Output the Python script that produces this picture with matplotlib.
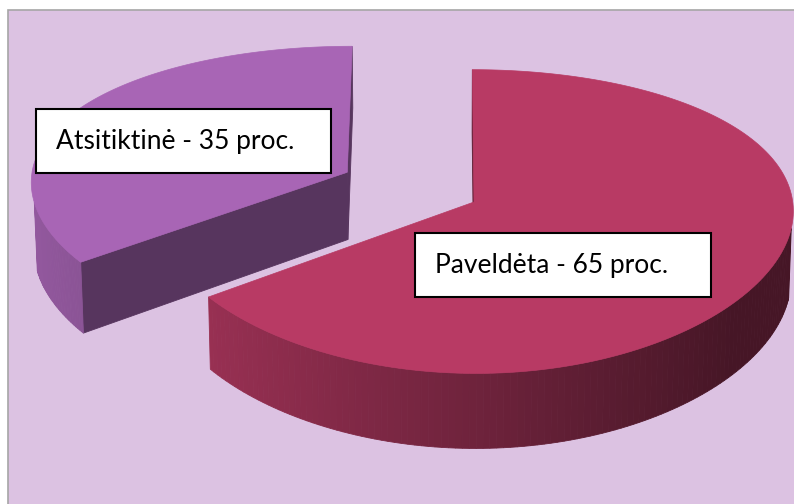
import numpy as np
import matplotlib
matplotlib.use('Agg')
import matplotlib.pyplot as plt
from matplotlib.patches import Polygon, Rectangle

# ---- data ----
categories = ['Paveldėta', 'Atsitiktinė']
values = [65, 35]
label_texts = ['Paveldėta - 65 proc.', 'Atsitiktinė - 35 proc.']
explode = [0.0, 0.45]
top_colors = ['#B83A64', '#A865B5']

# ---- layout / camera ----
W, H = 794, 504
elev = np.radians(28.2)
D = 6.85          # vertical perspective distance
Dx = 16.0         # weaker horizontal perspective
F = 2165.0
Fx = 5100.0
Xcam = -0.10
apex_px = (474.0, 202.0)
depth = 0.25
ce, se = np.cos(elev), np.sin(elev)
sx0 = apex_px[0] + Fx * Xcam / Dx
sy0 = apex_px[1]
cam = np.array([Xcam, -D * ce, D * se])


def proj(X, Y, Z):
    X = np.asarray(X, float); Y = np.asarray(Y, float); Z = np.asarray(Z, float)
    d = D + Y * ce - Z * se
    dx = Dx + Y * ce - Z * se
    v = Y * se + Z * ce
    return sx0 + Fx * (X - Xcam) / dx, sy0 - F * v / d


def shade(color, f):
    r, g, b = matplotlib.colors.to_rgb(color)
    return (min(r * f, 1), min(g * f, 1), min(b * f, 1))


fig = plt.figure(figsize=(W / 100, H / 100), dpi=100)
fig.patch.set_facecolor('white')
ax = fig.add_axes([0, 0, 1, 1])
ax.set_xlim(0, W)
ax.set_ylim(H, 0)
ax.axis('off')
ax.add_patch(Rectangle((8, 10), 900, 600, facecolor='#DCC2E2',
                       edgecolor='#A6A6A6', linewidth=1.2, zorder=0))

total = float(sum(values))
angles = []
t = 90.0
for v in values:
    t2 = t - 360.0 * v / total
    angles.append((t, t2))
    t = t2


def draw_slice(i, z0):
    ts, te = angles[i]
    mid = np.radians((ts + te) / 2)
    ox, oy = explode[i] * np.cos(mid), explode[i] * np.sin(mid)
    col = top_colors[i]
    th = np.radians(np.linspace(ts, te, 200))
    rx, ry = ox + np.cos(th), oy + np.sin(th)
    faces = []
    # walls
    for k in range(len(th) - 1):
        tm = 0.5 * (th[k] + th[k + 1])
        n = np.array([np.cos(tm), np.sin(tm), 0])
        p = np.array([ox + np.cos(tm), oy + np.sin(tm), -depth / 2])
        if np.dot(n, cam - p) <= 0:
            continue
        X = [rx[k], rx[k + 1], rx[k + 1], rx[k]]
        Y = [ry[k], ry[k + 1], ry[k + 1], ry[k]]
        Z = [0, 0, -depth, -depth]
        f = max(0.6 - 0.28 * np.cos(tm), 0.38)
        faces.append((np.dot(p - cam, p - cam), X, Y, Z, shade(col, f)))
    # radial faces
    for tt, sgn in ((ts, 1), (te, -1)):
        a = np.radians(tt)
        n = np.array([np.cos(a + sgn * np.pi / 2), np.sin(a + sgn * np.pi / 2), 0])
        p = np.array([ox + 0.5 * np.cos(a), oy + 0.5 * np.sin(a), -depth / 2])
        if np.dot(n, cam - p) <= 0:
            continue
        X = [ox, ox + np.cos(a), ox + np.cos(a), ox]
        Y = [oy, oy + np.sin(a), oy + np.sin(a), oy]
        Z = [0, 0, -depth, -depth]
        faces.append((np.dot(p - cam, p - cam), X, Y, Z, shade(col, 0.52)))
    faces.sort(key=lambda q: -q[0])
    for _, X, Y, Z, c in faces:
        px, py = proj(X, Y, Z)
        ax.add_patch(Polygon(np.column_stack([px, py]), closed=True,
                             facecolor=c, edgecolor=c, linewidth=0.6, zorder=z0))
    X = np.concatenate([[ox], rx])
    Y = np.concatenate([[oy], ry])
    px, py = proj(X, Y, np.zeros_like(X))
    ax.add_patch(Polygon(np.column_stack([px, py]), closed=True,
                         facecolor=col, edgecolor=col, linewidth=0.5, zorder=z0 + 1))


draw_slice(1, 2)
draw_slice(0, 4)

# labels
box_pos = {'Paveldėta': (415, 233, 296, 64), 'Atsitiktinė': (36, 109, 295, 64)}
for cat, txt in zip(categories, label_texts):
    x, y, w, h = box_pos[cat]
    ax.add_patch(Rectangle((x, y), w, h, facecolor='white', edgecolor='black',
                           linewidth=1.5, zorder=10))
    ax.text(x + 20, y + h / 2 + 1, txt, fontsize=19, family='Lato',
            ha='left', va='center', color='black', zorder=11)

fig.savefig('out.png', dpi=100)
